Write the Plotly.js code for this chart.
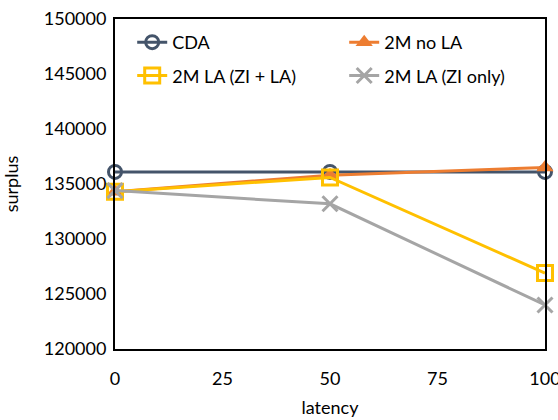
<!DOCTYPE html>
<html>
<head>
<meta charset="utf-8">
<script src="https://cdn.plot.ly/plotly-3.0.1.min.js"></script>
<style>
  html, body { margin: 0; padding: 0; background: #fff; }
  #chart { width: 558px; height: 420px; }
</style>
</head>
<body>
<div id="chart"></div>
<script>
// Latency settings (x axis)
const latency = [0, 50, 100];

// Surplus for each market mechanism
const cda        = [136100, 136100, 136100];
const twoMNoLA   = [134300, 135800, 136500];
const twoMLaZiLa = [134300, 135600, 126900];
const twoMLaZi   = [134400, 133200, 124000];

const seriesNames = ['CDA', '2M no LA', '2M LA (ZI + LA)', '2M LA (ZI only)'];

const yTicks = [120000, 125000, 130000, 135000, 140000, 145000, 150000];
const xTicks = [0, 25, 50, 75, 100];

const font = 'Lato, "Open Sans", sans-serif';

function series(name, y, color, symbol, size, mlw, fill, legendId) {
  return {
    type: 'scatter',
    mode: 'lines+markers',
    name: name,
    legend: legendId,
    legendgroup: name,
    x: latency,
    y: y,
    cliponaxis: false,
    line: { color: color, width: 3 },
    marker: {
      symbol: symbol,
      size: size,
      color: fill,
      line: { color: color, width: mlw }
    }
  };
}

// Two legend columns: left column holds CDA and ZI + LA, right column the others
const traces = [
  series(seriesNames[0], cda,        '#44546A', 'circle-open', 13, 3, '#44546A', 'legend'),
  series(seriesNames[1], twoMNoLA,   '#ED7D31', 'triangle-up', 15, 0, '#ED7D31', 'legend2'),
  series(seriesNames[2], twoMLaZiLa, '#FFC000', 'square-open', 15, 3, '#FFC000', 'legend'),
  series(seriesNames[3], twoMLaZi,   '#A5A5A5', 'x-thin-open', 15, 3, '#A5A5A5', 'legend2')
];

function legendColumn(x) {
  return {
    orientation: 'v',
    x: x,
    y: 0.985,
    xanchor: 'left',
    yanchor: 'top',
    bgcolor: 'rgba(255,255,255,0)',
    font: { family: font, size: 18, color: '#000000' },
    tracegroupgap: 7
  };
}

const layout = {
  width: 558,
  height: 420,
  margin: { l: 115, r: 13, t: 19, b: 71 },
  paper_bgcolor: '#ffffff',
  plot_bgcolor: '#ffffff',
  font: { family: font, size: 18, color: '#000000' },
  showlegend: true,
  legend: legendColumn(0.04),
  legend2: legendColumn(0.533),
  xaxis: {
    range: [0, 100],
    tickvals: xTicks,
    ticktext: xTicks.map(String),
    showgrid: false,
    zeroline: false,
    showline: true,
    mirror: true,
    linecolor: '#000000',
    linewidth: 2,
    ticks: '',
    ticklabelstandoff: 12,
    ticklabeloverflow: 'allow',
    tickfont: { family: font, size: 18, color: '#000000' },
    title: { text: 'latency', font: { family: font, size: 18, color: '#000000' }, standoff: 14 }
  },
  yaxis: {
    range: [120000, 150000],
    tickvals: yTicks,
    ticktext: yTicks.map(String),
    showgrid: false,
    zeroline: false,
    showline: true,
    mirror: true,
    linecolor: '#000000',
    linewidth: 2,
    ticks: '',
    ticklabelstandoff: 3,
    tickfont: { family: font, size: 18, color: '#000000' },
    title: { text: 'surplus', font: { family: font, size: 18, color: '#000000' }, standoff: 24 }
  }
};

Plotly.newPlot('chart', traces, layout, { displayModeBar: false, staticPlot: true });
</script>
</body>
</html>
